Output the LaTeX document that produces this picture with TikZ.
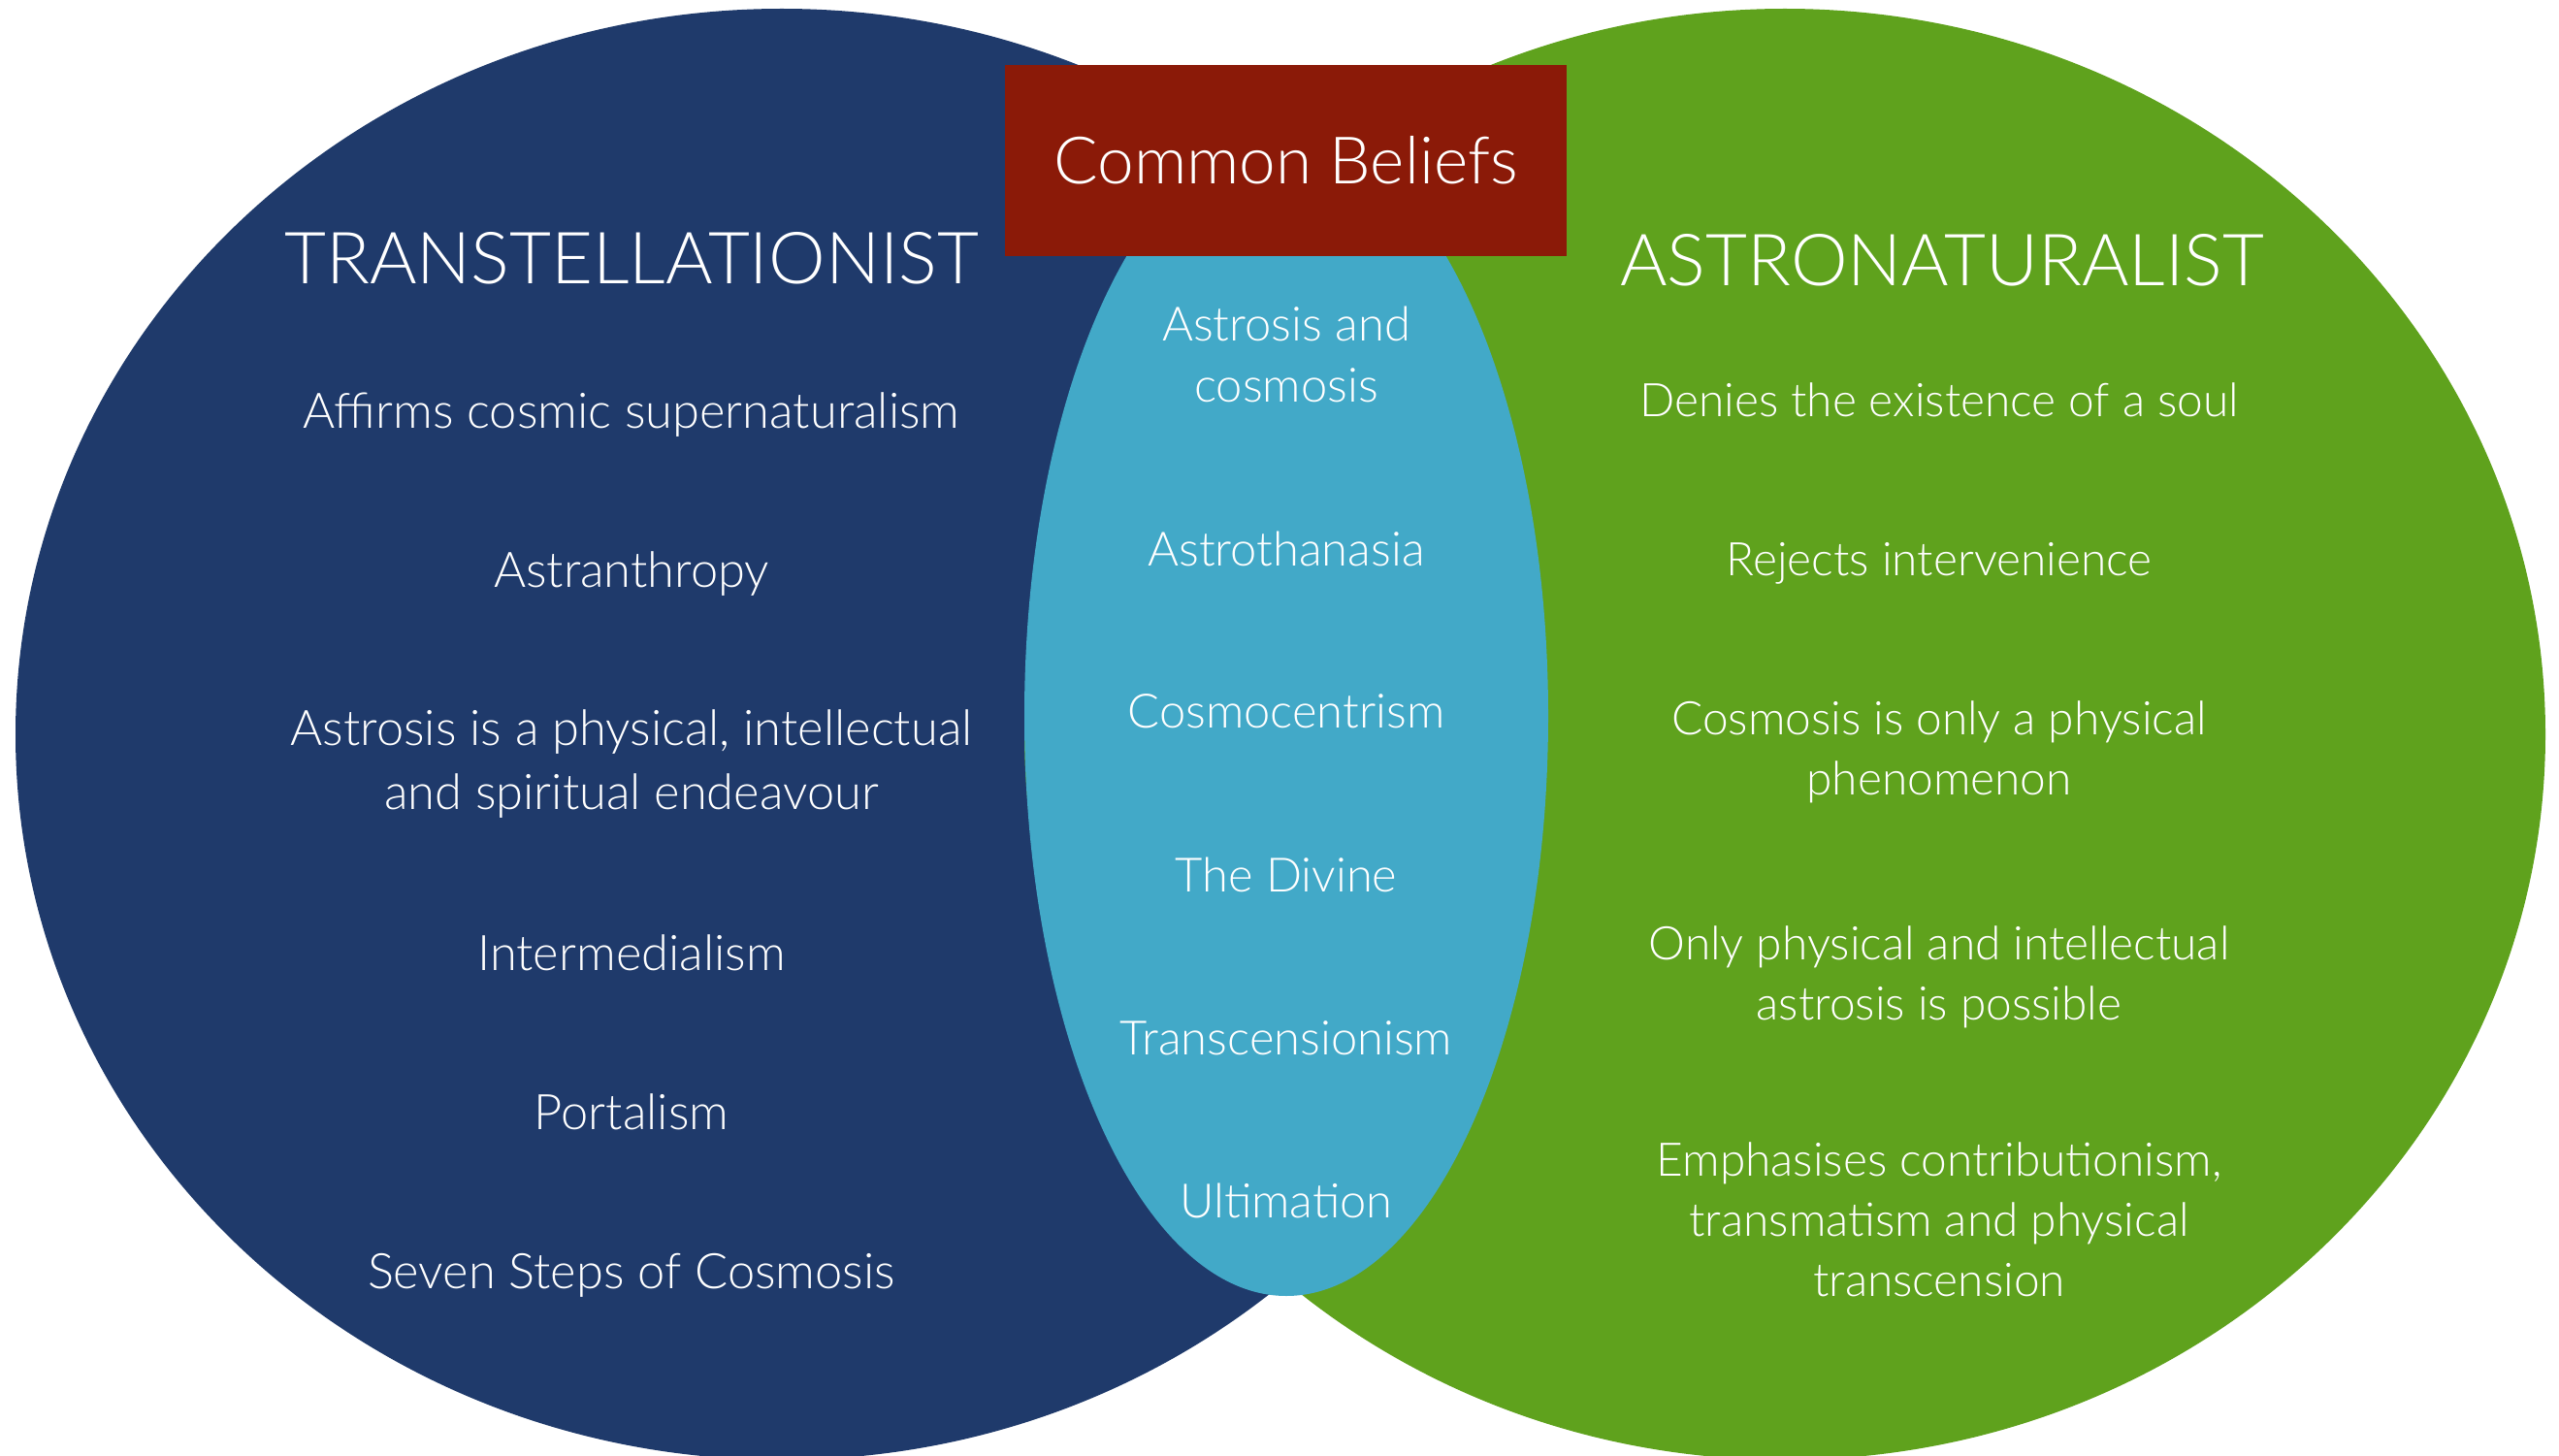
\documentclass[tikz,border=0pt]{standalone}
\usepackage{fontspec}
\setmainfont{Lato Light}
\definecolor{transblue}{RGB}{31,58,107}
\definecolor{astrogreen}{RGB}{95,162,29}
\definecolor{commonblue}{RGB}{66,169,200}
\definecolor{beliefred}{RGB}{139,26,8}
\begin{document}
\begin{tikzpicture}[
	heading/.style={
		text=white,
		anchor=base,
		inner sep=0pt,
		font=\fontsize{21.1}{25}\selectfont,
	},
	belief/.style={% Text inside the circles
		text=white,
		align=center,
		anchor=base,
		inner sep=0pt,
	},
	transbelief/.style={belief, font=\fontsize{14.4}{18.5}\selectfont},
	sharedbelief/.style={belief, font=\fontsize{13.9}{18}\selectfont},
	astrobelief/.style={belief, font=\fontsize{13.6}{17.5}\selectfont},
	banner/.style={
		rectangle,
		fill=beliefred,
		text=white,
		minimum width=5.79cm,
		minimum height=1.97cm,
		inner sep=0pt,
		font=\fontsize{19.2}{23}\selectfont,
	},
]
	\useasboundingbox (0,0) rectangle (26.38,15);
	\clip (0,0) rectangle (26.38,15);

	\fill [transblue] (8.06,7.43) ellipse [x radius=7.90, y radius=7.48];
	\fill [astrogreen] (18.40,7.43) ellipse [x radius=7.84, y radius=7.48];
	\fill [commonblue] (13.26,7.62) ellipse [x radius=2.70, y radius=5.98];

	\node [banner] (common) at (13.255,13.345) {Common Beliefs};

	\node [heading] (trans) at (6.51,12.07) {TRANSTELLATIONIST};
	\node [transbelief] (affirms) at (6.51,10.58) {Affirms cosmic supernaturalism};
	\node [transbelief] (astranthropy) at (6.51,8.94) {Astranthropy};
	\node [transbelief] (endeavour) at (6.51,6.66) {Astrosis is a physical, intellectual\\and spiritual endeavour};
	\node [transbelief] (intermedialism) at (6.51,5.00) {Intermedialism};
	\node [transbelief] (portalism) at (6.51,3.36) {Portalism};
	\node [transbelief] (sevensteps) at (6.51,1.72) {Seven Steps of Cosmosis};

	\node [sharedbelief] (astrosis) at (13.26,10.85) {Astrosis and\\cosmosis};
	\node [sharedbelief] (astrothanasia) at (13.26,9.17) {Astrothanasia};
	\node [sharedbelief] (cosmocentrism) at (13.26,7.49) {Cosmocentrism};
	\node [sharedbelief] (divine) at (13.26,5.81) {The Divine};
	\node [sharedbelief] (transcensionism) at (13.26,4.13) {Transcensionism};
	\node [sharedbelief] (ultimation) at (13.26,2.45) {Ultimation};

	\node [heading] (astro) at (20.02,12.05) {ASTRONATURALIST};
	\node [astrobelief] (soul) at (19.99,10.70) {Denies the existence of a soul};
	\node [astrobelief] (intervenience) at (19.99,9.06) {Rejects intervenience};
	\node [astrobelief] (phenomenon) at (19.99,6.81) {Cosmosis is only a physical\\phenomenon};
	\node [astrobelief] (possible) at (19.99,4.49) {Only physical and intellectual\\astrosis is possible};
	\node [astrobelief] (contribution) at (19.99,1.64) {Emphasises contributionism,\\transmatism and physical\\transcension};
\end{tikzpicture}
\end{document}
